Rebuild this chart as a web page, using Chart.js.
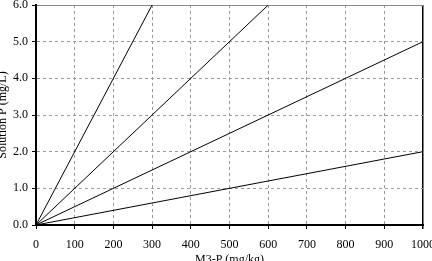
<!DOCTYPE html>
<html>
<head>
<meta charset="utf-8">
<script src="https://cdn.jsdelivr.net/npm/chart.js@4"></script>
<style>
  html, body { margin: 0; padding: 0; overflow: hidden; background: #fff; }
  body { width: 432px; height: 261px; position: relative; }
  #wrap { position: absolute; left: -4px; top: 0; width: 455px; height: 267px; }
</style>
</head>
<body>
<div id="wrap"><canvas id="chLines"></canvas></div>
<script>
// M3-P (mg/kg) vs solution P (mg/L), one line per ratio
var m3pA = [0, 300];
var solA = [0, 6.0];
var m3pB = [0, 600];
var solB = [0, 6.0];
var m3pC = [0, 1000];
var solC = [0, 5.0];
var m3pD = [0, 1000];
var solD = [0, 2.0];

var xTicks = [0, 100, 200, 300, 400, 500, 600, 700, 800, 900, 1000];
var yTicks = [0, 1, 2, 3, 4, 5, 6];

function pts(xs, ys) {
    return xs.map(function(x, i) { return { x: x, y: ys[i] }; });
}

var lineStyle = { borderColor: '#000', borderWidth: 1, pointRadius: 0, showLine: true, fill: false, tension: 0 };

var font = { family: '"Liberation Serif", "Times New Roman", serif', size: 12 };

new Chart(document.getElementById('chLines'), {
    type: 'scatter',
    data: {
        datasets: [
            Object.assign({ data: pts(m3pA, solA) }, lineStyle),
            Object.assign({ data: pts(m3pB, solB) }, lineStyle),
            Object.assign({ data: pts(m3pC, solC) }, lineStyle),
            Object.assign({ data: pts(m3pD, solD) }, lineStyle)
        ]
    },
    options: {
        responsive: true,
        maintainAspectRatio: false,
        animation: false,
        layout: { padding: { top: 5, left: 0, right: 28, bottom: 0 } },
        plugins: { legend: { display: false }, tooltip: { enabled: false } },
        scales: {
            x: {
                type: 'linear',
                min: xTicks[0],
                max: xTicks[xTicks.length - 1],
                afterBuildTicks: function(s) { s.ticks = xTicks.map(function(v) { return { value: v }; }); },
                afterFit: function(s) { s.height = 42; s.paddingLeft = 0; s.paddingRight = 0; },
                ticks: {
                    color: '#000', font: font, padding: 9, maxRotation: 0,
                    callback: function(v) { return String(v); }
                },
                grid: {
                    color: function(c) { return c.index === xTicks.length - 1 ? '#000' : '#999'; },
                    lineWidth: function(c) { return c.index === xTicks.length - 1 ? 1.5 : 1; },
                    tickLength: 4, tickColor: '#000', tickBorderDash: []
                },
                border: {
                    color: '#000', width: 2,
                    dash: function(c) { return c.index === xTicks.length - 1 ? [] : [3, 3]; }
                },
                title: { display: true, text: 'M3-P (mg/kg)', color: '#000', font: font, padding: 0 }
            },
            y: {
                type: 'linear',
                min: yTicks[0],
                max: yTicks[yTicks.length - 1],
                afterBuildTicks: function(s) { s.ticks = yTicks.map(function(v) { return { value: v }; }); },
                afterFit: function(s) { s.width = 40; s.paddingTop = 0; s.paddingBottom = 0; },
                ticks: {
                    color: '#000', font: font, padding: 4,
                    callback: function(v) { return Number(v).toFixed(1); }
                },
                grid: {
                    color: function(c) { return c.index === yTicks.length - 1 ? '#888' : '#999'; },
                    tickLength: 4, tickColor: '#000', tickBorderDash: []
                },
                border: {
                    color: '#000', width: 2,
                    dash: function(c) { return c.index === yTicks.length - 1 ? [] : [3, 3]; }
                },
                title: { display: true, text: 'Solution P (mg/L)', color: '#000', font: font, padding: 0 }
            }
        }
    }
});
</script>
</body>
</html>
